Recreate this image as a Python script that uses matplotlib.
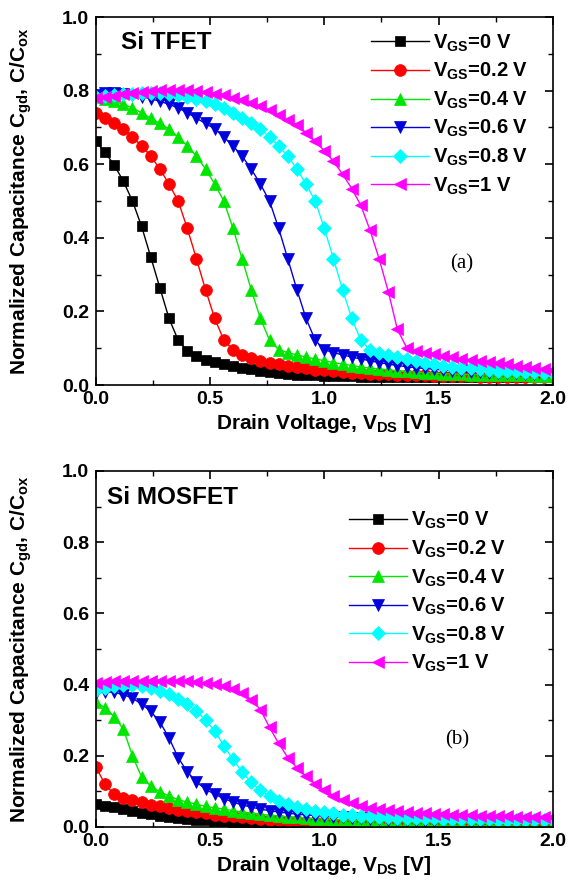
import numpy as np
import matplotlib
matplotlib.use("Agg")
import matplotlib.pyplot as plt
from matplotlib.ticker import MultipleLocator

plt.rcParams['font.family'] = ['Liberation Sans', 'DejaVu Sans']
plt.rcParams['font.weight'] = 'bold'
plt.rcParams['mathtext.fontset'] = 'custom'
plt.rcParams['mathtext.rm'] = 'Liberation Sans:bold'
plt.rcParams['mathtext.bf'] = 'Liberation Sans:bold'
plt.rcParams['mathtext.it'] = 'Liberation Sans:bold:italic'
plt.rcParams['mathtext.default'] = 'rm'

# Drain voltage sample points (V)
vds = np.linspace(0.0, 2.0, 51)

labels = ["V$_{GS}$=0 V", "V$_{GS}$=0.2 V", "V$_{GS}$=0.4 V",
          "V$_{GS}$=0.6 V", "V$_{GS}$=0.8 V", "V$_{GS}$=1 V"]

# ---- (a) Si TFET ----
tfet_0 = [0.662, 0.632, 0.598, 0.554, 0.50, 0.431, 0.348, 0.264, 0.181, 0.122, 0.093,
          0.078, 0.068, 0.062, 0.056, 0.051, 0.046, 0.043, 0.039, 0.035, 0.032, 0.030,
          0.028, 0.027, 0.026, 0.025,
          0.024, 0.024, 0.024, 0.023, 0.023, 0.023, 0.023, 0.022, 0.022, 0.022, 0.022,
          0.022, 0.022, 0.021, 0.021, 0.021, 0.021, 0.021, 0.021, 0.021, 0.021, 0.021,
          0.021, 0.021, 0.021]
tfet_02 = [0.740, 0.725, 0.711, 0.696, 0.674, 0.650, 0.622, 0.587, 0.546, 0.500, 0.426,
           0.343, 0.259, 0.181, 0.122, 0.096,
           0.082, 0.073, 0.066, 0.061, 0.056, 0.052, 0.048, 0.045, 0.042, 0.040, 0.038,
           0.036, 0.034, 0.032, 0.031, 0.030, 0.029, 0.028, 0.027, 0.026, 0.026, 0.025,
           0.025, 0.024, 0.024,
           0.024, 0.023, 0.023, 0.023, 0.023, 0.022, 0.022, 0.022, 0.022, 0.022]
tfet_04 = [0.784, 0.778, 0.771, 0.763, 0.753, 0.740, 0.725, 0.711, 0.696, 0.674, 0.650,
           0.622, 0.587, 0.546, 0.500, 0.426, 0.343, 0.259, 0.181, 0.122, 0.096,
           0.088, 0.082, 0.076, 0.071, 0.066, 0.061, 0.057, 0.053, 0.049, 0.046, 0.044,
           0.041, 0.039, 0.037, 0.035, 0.034, 0.032, 0.031, 0.030, 0.029,
           0.028, 0.028, 0.027, 0.027, 0.026, 0.026, 0.026, 0.025, 0.025, 0.025]
tfet_06 = [0.789, 0.794, 0.794, 0.792, 0.789, 0.784, 0.778, 0.771, 0.763, 0.753, 0.740,
           0.725, 0.711, 0.696, 0.674, 0.650, 0.622, 0.587, 0.546, 0.500, 0.426, 0.343,
           0.259, 0.181, 0.122, 0.096,
           0.088, 0.082, 0.076, 0.071, 0.066, 0.061, 0.057, 0.053, 0.050, 0.047, 0.045,
           0.043, 0.041, 0.039, 0.037, 0.036, 0.035, 0.034, 0.033, 0.032, 0.032, 0.031,
           0.031, 0.030, 0.030]
tfet_08 = [0.782, 0.785, 0.788, 0.790, 0.792, 0.794, 0.794, 0.794, 0.792, 0.789, 0.784,
           0.778, 0.771, 0.763, 0.753, 0.740, 0.725, 0.711, 0.696, 0.674, 0.650, 0.622,
           0.587, 0.546, 0.500, 0.426, 0.343, 0.259, 0.181, 0.122, 0.096,
           0.088, 0.081, 0.075, 0.070, 0.065, 0.060, 0.056, 0.053, 0.050, 0.047, 0.045,
           0.043, 0.041, 0.039, 0.038, 0.037, 0.036, 0.035, 0.034, 0.033]
tfet_10 = [0.779, 0.782, 0.786, 0.790, 0.793, 0.796, 0.799, 0.801, 0.802, 0.802, 0.801,
           0.799, 0.796, 0.792, 0.787, 0.781, 0.774, 0.767, 0.758, 0.747, 0.735, 0.720,
           0.706, 0.686, 0.662, 0.637, 0.608, 0.573, 0.534, 0.488, 0.421, 0.343, 0.254,
           0.151, 0.102, 0.093,
           0.088, 0.083, 0.079, 0.075, 0.071, 0.068, 0.065, 0.062, 0.059, 0.056, 0.053,
           0.050, 0.047, 0.044, 0.041]

# ---- (b) Si MOSFET ----
mos_0 = [0.065, 0.06, 0.056, 0.05, 0.045, 0.04, 0.036, 0.032, 0.029, 0.026, 0.023,
         0.021, 0.019, 0.017, 0.016, 0.014, 0.013, 0.012, 0.011, 0.010, 0.009, 0.009,
         0.008, 0.008, 0.007, 0.007,
         0.006, 0.006, 0.006, 0.006, 0.006, 0.005, 0.005, 0.005, 0.005, 0.005, 0.004,
         0.004, 0.004, 0.004, 0.004, 0.004, 0.004, 0.004, 0.004, 0.004, 0.003, 0.003,
         0.003, 0.003, 0.003]
mos_02 = [0.168, 0.12, 0.092, 0.082, 0.075, 0.069, 0.063, 0.058, 0.053, 0.049, 0.045,
          0.041, 0.038, 0.035, 0.032, 0.03, 0.027, 0.025, 0.023, 0.021, 0.019, 0.018,
          0.016, 0.015, 0.014, 0.013,
          0.012, 0.011, 0.011, 0.010, 0.010, 0.009, 0.009, 0.008, 0.008, 0.008, 0.007,
          0.007, 0.007, 0.007, 0.006, 0.006, 0.006, 0.006, 0.006, 0.005, 0.005, 0.005,
          0.005, 0.005, 0.005]
mos_04 = [0.35, 0.335, 0.31, 0.275, 0.2, 0.14, 0.115, 0.099, 0.087, 0.077, 0.07,
          0.064, 0.058, 0.054, 0.05, 0.046, 0.042, 0.039, 0.036, 0.033, 0.031, 0.029,
          0.027, 0.025, 0.023, 0.022, 0.021, 0.02, 0.019, 0.018, 0.017, 0.016, 0.015,
          0.015, 0.014, 0.013,
          0.013, 0.012, 0.012, 0.012, 0.011, 0.011, 0.011, 0.010, 0.010, 0.010, 0.010,
          0.009, 0.009, 0.009, 0.009]
mos_06 = [0.375, 0.38, 0.378, 0.372, 0.362, 0.345, 0.325, 0.295, 0.25, 0.195, 0.155,
          0.127, 0.106, 0.092, 0.08, 0.07, 0.062, 0.056, 0.05, 0.046, 0.042, 0.039,
          0.036, 0.034, 0.032, 0.03, 0.028, 0.027, 0.025, 0.024, 0.023, 0.022, 0.021,
          0.02, 0.019, 0.018,
          0.018, 0.017, 0.017, 0.016, 0.016, 0.015, 0.015, 0.015, 0.014, 0.014, 0.014,
          0.013, 0.013, 0.013, 0.013]
mos_08 = [0.385, 0.39, 0.395, 0.398, 0.398, 0.396, 0.39, 0.383, 0.373, 0.36, 0.345,
          0.325, 0.30, 0.27, 0.228, 0.19, 0.155, 0.125, 0.103, 0.087, 0.074, 0.064,
          0.056, 0.05, 0.045, 0.041, 0.038, 0.035, 0.033, 0.031, 0.03, 0.028, 0.027,
          0.026, 0.025, 0.025, 0.024,
          0.024, 0.023, 0.023, 0.023, 0.022, 0.022, 0.022, 0.021, 0.021, 0.021, 0.021,
          0.020, 0.020, 0.020]
mos_10 = [0.405, 0.408, 0.41, 0.41, 0.411, 0.411, 0.411, 0.411, 0.411, 0.41, 0.41,
          0.408, 0.405, 0.401, 0.396, 0.388, 0.376, 0.358, 0.33, 0.28, 0.235, 0.195,
          0.166, 0.143, 0.122, 0.104, 0.088, 0.075, 0.066, 0.059, 0.054, 0.05, 0.047,
          0.044, 0.042, 0.04, 0.038, 0.037, 0.036, 0.035, 0.034, 0.033, 0.032, 0.031,
          0.03, 0.03, 0.029, 0.029, 0.028, 0.028, 0.027]

colors = ['#000000', '#ff0000', '#00e600', '#0000dd', '#00ffff', '#ff00ff']
markers = ['s', 'o', '^', 'v', 'D', '<']
msizes = [7.5, 8.5, 8.5, 8.5, 7, 8.5]

fig = plt.figure(figsize=(5.71, 8.88), dpi=100)
ax1 = fig.add_axes([0.168, 0.5664, 0.800, 0.4144])
ax2 = fig.add_axes([0.168, 0.0687, 0.800, 0.4009])

panels = [
    (ax1, [tfet_0, tfet_02, tfet_04, tfet_06, tfet_08, tfet_10], "Si TFET", (0.11, 0.932),
     "(a)", (1.6, 0.33), (0.603, 0.958)),
    (ax2, [mos_0, mos_02, mos_04, mos_06, mos_08, mos_10], "Si MOSFET", (0.05, 0.925),
     "(b)", (1.58, 0.245), (0.555, 0.89)),
]

for ax, series, title, tpos, tag, tagpos, legpos in panels:
    for ys, c, m, ms, lab in zip(series, colors, markers, msizes, labels):
        ax.plot(vds, ys, color=c, marker=m, markersize=ms, markerfacecolor=c,
                markeredgecolor=c, markeredgewidth=0.5, linewidth=1.0, label=lab)
    ax.set_xlim(0, 2.0)
    ax.set_ylim(0, 1.0)
    ax.set_xticks([0.0, 0.5, 1.0, 1.5, 2.0])
    ax.set_xticklabels(["0.0", "0.5", "1.0", "1.5", "2.0"])
    ax.set_yticks([0.0, 0.2, 0.4, 0.6, 0.8, 1.0])
    ax.set_yticklabels(["0.0", "0.2", "0.4", "0.6", "0.8", "1.0"])
    ax.xaxis.set_minor_locator(MultipleLocator(0.25))
    ax.yaxis.set_minor_locator(MultipleLocator(0.1))
    ax.tick_params(which='major', direction='in', length=6, width=1.2,
                   top=True, right=True, labelsize=14)
    ax.tick_params(axis='x', which='major', pad=4.5)
    ax.tick_params(axis='y', which='major', pad=5)
    ax.tick_params(which='minor', direction='in', length=3.5, width=1.0,
                   top=True, right=True)
    for lbl in ax.get_xticklabels() + ax.get_yticklabels():
        lbl.set_fontweight('bold')
    for s in ax.spines.values():
        s.set_linewidth(1.2)
    ax.set_xlabel("Drain Voltage, V$_{DS}$ [V]", fontsize=15, fontweight='bold', labelpad=3)
    ax.set_ylabel("Normalized Capacitance C$_{gd}$, C/C$_{ox}$", fontsize=15,
                  fontweight='bold')
    ax.yaxis.set_label_coords(-0.135, 0.5)
    ax.text(tpos[0], tpos[1], title, fontsize=17.5, fontweight='bold',
            ha='left', va='center')
    ax.text(tagpos[0], tagpos[1], tag, fontsize=15, fontweight='normal',
            family='Liberation Serif', ha='center', va='center')
    leg = ax.legend(loc='upper left', bbox_to_anchor=legpos, frameon=False,
                    fontsize=14.5, handlelength=2.85, handletextpad=0.2,
                    labelspacing=0.36, borderpad=0, borderaxespad=0)
    for t in leg.get_texts():
        t.set_fontweight('bold')

fig.savefig("out.png", dpi=100)
